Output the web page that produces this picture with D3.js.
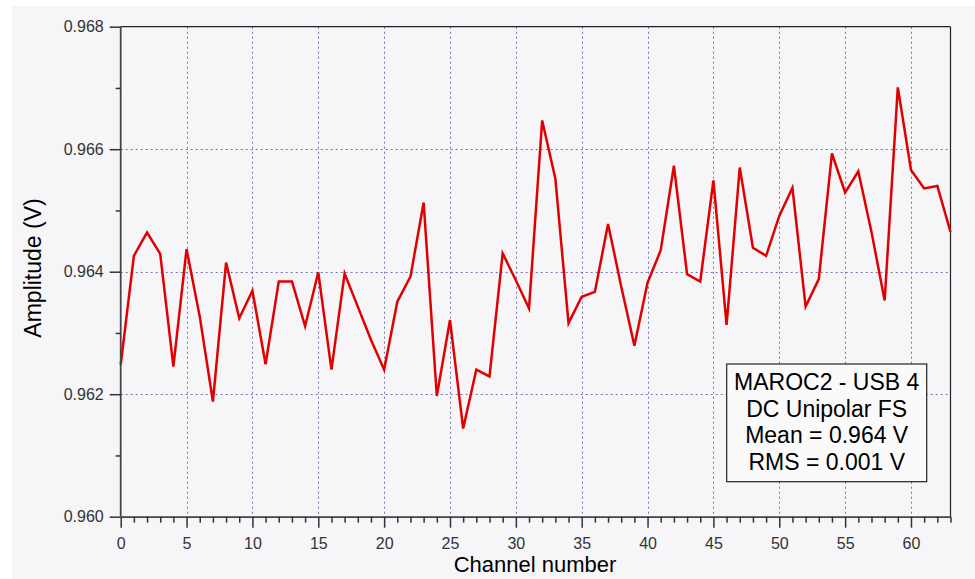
<!DOCTYPE html>
<html>
  <head>
    <title>MAROC2 amplitude</title>
    <script type="text/javascript" src="https://cdn.jsdelivr.net/npm/d3@7"></script>
    <style>
      body { margin:0; padding:0; background:#ffffff; }
      svg text { font-family: Arial, "Liberation Sans", sans-serif; }
    </style>
  </head>
  <body>
    <div id="chart"></div>
    <script type="text/javascript">

		// channel amplitudes (V)
		var channels = d3.range(0, 64);
		var amplitude = [
			0.96248, 0.96426, 0.96464, 0.96429, 0.96245, 0.96437, 0.96327, 0.96188,
			0.96415, 0.96324, 0.96369, 0.96249, 0.96384, 0.96384, 0.96311, 0.96399,
			0.96240, 0.96397, 0.96343, 0.96289, 0.96240, 0.96351, 0.96392, 0.96513,
			0.96197, 0.96321, 0.96144, 0.96240, 0.96229, 0.96430, 0.96386, 0.96340,
			0.96647, 0.96552, 0.96316, 0.96359, 0.96367, 0.96478, 0.96376, 0.96279,
			0.96382, 0.96435, 0.96573, 0.96396, 0.96384, 0.96549, 0.96313, 0.96570,
			0.96439, 0.96426, 0.96491, 0.96537, 0.96343, 0.96388, 0.96593, 0.96529,
			0.96564, 0.96465, 0.96353, 0.96701, 0.96566, 0.96536, 0.96540, 0.96465
		];
		var xTicks = [0, 5, 10, 15, 20, 25, 30, 35, 40, 45, 50, 55, 60];
		var yTicks = [0.960, 0.962, 0.964, 0.966, 0.968];
		var legendLines = ["MAROC2 - USB 4", "DC Unipolar FS", "Mean = 0.964 V", "RMS = 0.001 V"];

		var W = 975, H = 579;
		var pLeft = 120.7, pRight = 950.5, pTop = 26.7, pBottom = 516.7;

		var svg = d3.select('#chart').append("svg")
			.attr("width", W)
			.attr("height", H);

		// panel background
		svg.append("rect")
			.attr("x", 12).attr("y", 6)
			.attr("width", W - 12).attr("height", H - 6)
			.style("fill", "#f6f6f8");

		var x = d3.scaleLinear().domain([0, 63]).range([pLeft, pRight]);
		var y = d3.scaleLinear().domain([0.960, 0.968]).range([pBottom, pTop]);

		// grid (dotted)
		var grid = svg.append("g").attr("class", "grid");
		grid.selectAll("line.gx")
			.data(xTicks.filter(function(d) { return d > 0; }))
			.enter().append("line")
			.attr("x1", function(d) { return Math.round(x(d)) + 0.5; })
			.attr("x2", function(d) { return Math.round(x(d)) + 0.5; })
			.attr("y1", pTop).attr("y2", pBottom)
			.attr("stroke", "#7474b4")
			.attr("stroke-width", 1)
			.attr("stroke-dasharray", "2,3");
		grid.selectAll("line.gy")
			.data(yTicks.slice(1, -1))
			.enter().append("line")
			.attr("y1", function(d) { return Math.round(y(d)) + 0.5; })
			.attr("y2", function(d) { return Math.round(y(d)) + 0.5; })
			.attr("x1", pLeft).attr("x2", pRight)
			.attr("stroke", "#7474b4")
			.attr("stroke-width", 1)
			.attr("stroke-dasharray", "2,3");

		// frame top + right
		svg.append("line").attr("x1", pLeft).attr("x2", pRight).attr("y1", pTop).attr("y2", pTop)
			.attr("stroke", "#222").attr("stroke-width", 1.2);
		svg.append("line").attr("x1", pRight).attr("x2", pRight).attr("y1", pTop).attr("y2", pBottom)
			.attr("stroke", "#222").attr("stroke-width", 1.2);

		// the data line
		var line = d3.line()
			.x(function(d, i) { return x(channels[i]); })
			.y(function(d) { return y(d); });
		svg.append("path")
			.datum(amplitude)
			.attr("d", line)
			.attr("fill", "none")
			.attr("stroke", "#e00000")
			.attr("stroke-width", 2.5)
			.attr("stroke-linejoin", "miter");

		// legend box
		var lg = svg.append("g").attr("transform", "translate(726.7,364)");
		lg.append("rect")
			.attr("x", 0).attr("y", 0)
			.attr("width", 200).attr("height", 117.7)
			.style("fill", "#fafafa")
			.attr("stroke", "#222")
			.attr("stroke-width", 1.2);
		lg.selectAll("text")
			.data(legendLines)
			.enter().append("text")
			.attr("x", 100)
			.attr("y", function(d, i) { return 26 + i * 26.7; })
			.attr("text-anchor", "middle")
			.style("font-size", "23px")
			.style("fill", "#000")
			.text(function(d) { return d; });

		// y axis
		var yAxis = d3.axisLeft(y)
			.tickValues(yTicks)
			.tickSize(11)
			.tickPadding(6)
			.tickFormat(d3.format(".3f"));
		var gy = svg.append("g")
			.attr("transform", "translate(" + pLeft + ",0)")
			.call(yAxis);
		var yMinor = d3.axisLeft(y)
			.tickValues([0.961, 0.963, 0.965, 0.967])
			.tickSize(5)
			.tickFormat("");
		svg.append("g")
			.attr("transform", "translate(" + pLeft + ",0)")
			.call(yMinor)
			.select(".domain").remove();

		// x axis
		var xAxis = d3.axisBottom(x)
			.tickValues(xTicks)
			.tickSize(11)
			.tickPadding(10)
			.tickSizeOuter(0);
		var gx = svg.append("g")
			.attr("transform", "translate(0," + pBottom + ")")
			.call(xAxis);
		var xMinor = d3.axisBottom(x)
			.tickValues(channels.filter(function(d) { return d % 5 != 0; }))
			.tickSize(6)
			.tickFormat("");
		svg.append("g")
			.attr("transform", "translate(0," + pBottom + ")")
			.call(xMinor)
			.select(".domain").remove();

		svg.selectAll(".tick line").attr("stroke", "#333").attr("stroke-width", 1.5);
		gy.select(".domain").attr("stroke", "#444").attr("stroke-width", 1.8).attr("d", "M0," + pTop + "V" + pBottom);
		gx.select(".domain").attr("stroke", "#444").attr("stroke-width", 1.8);
		svg.selectAll(".tick text")
			.style("font-size", "16px")
			.style("fill", "#333");

		// axis titles
		svg.append("text")
			.attr("transform", "translate(41,268) rotate(-90)")
			.attr("text-anchor", "middle")
			.style("font-size", "23px")
			.style("fill", "#000")
			.text("Amplitude (V)");
		svg.append("text")
			.attr("x", 535).attr("y", 572)
			.attr("text-anchor", "middle")
			.style("font-size", "22px")
			.style("fill", "#000")
			.text("Channel number");

    </script>
  </body>
</html>
